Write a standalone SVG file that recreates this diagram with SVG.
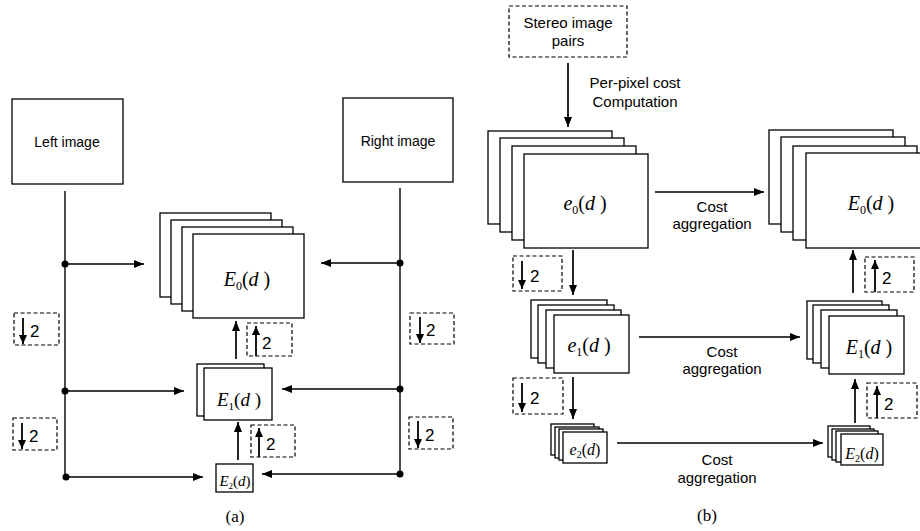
<svg xmlns="http://www.w3.org/2000/svg" width="920" height="531" viewBox="0 0 920 531">
<defs>
<marker id="ah" markerUnits="userSpaceOnUse" markerWidth="10" markerHeight="8" refX="10" refY="4" orient="auto"><path d="M0,0 L10,4 L0,8 z" fill="#000"/></marker>
<marker id="as" markerUnits="userSpaceOnUse" markerWidth="9" markerHeight="8" refX="9" refY="4" orient="auto"><path d="M0,0 L9,4 L0,8 z" fill="#000"/></marker>
<style>
.box{fill:#fff;stroke:#000;stroke-width:1.3}
.dash{fill:none;stroke:#000;stroke-width:1.2;stroke-dasharray:4,2.5}
.ln{stroke:#000;stroke-width:1.4;fill:none}
.ar{stroke:#000;stroke-width:1.7;fill:none;marker-end:url(#ah)}
.sa{stroke:#000;stroke-width:1.8;fill:none;marker-end:url(#as)}
.t{font-family:"Liberation Sans",Arial,sans-serif;font-size:14px;fill:#000}
.two{font-family:"Liberation Sans",Arial,sans-serif;font-size:17px;fill:#000}
.tb{font-family:"Liberation Sans",Arial,sans-serif;font-size:15px;fill:#000;text-anchor:middle}
.m{font-family:"Liberation Serif","Times New Roman",serif;fill:#000;text-anchor:middle}
.i{font-style:italic}
</style>
</defs>
<rect width="920" height="531" fill="#fff"/>

<!-- (a) -->
<g id="left-image"><rect class="box" x="12" y="99" width="111" height="85"/><text class="t" x="67" y="147" text-anchor="middle">Left image</text></g>
<g id="right-image"><rect class="box" x="343" y="98" width="110" height="84"/><text class="t" x="398" y="146" text-anchor="middle">Right image</text></g>

<g id="a-E0">
<rect class="box" x="160" y="213" width="111" height="84"/>
<rect class="box" x="171" y="220" width="111" height="84"/>
<rect class="box" x="182" y="227" width="111" height="84"/>
<rect class="box" x="193" y="234" width="111" height="84"/>
<text class="m" x="247" y="286" font-size="20"><tspan class="i">E</tspan><tspan font-size="12" dy="4">0</tspan><tspan dy="-4">(</tspan><tspan class="i">d</tspan> )</text>
</g>
<g id="a-E1">
<rect class="box" x="197" y="364" width="67" height="52"/>
<rect class="box" x="204" y="368" width="68" height="52"/>
<text class="m" x="239" y="406" font-size="19"><tspan class="i">E</tspan><tspan font-size="11" dy="4">1</tspan><tspan dy="-4">(</tspan><tspan class="i">d</tspan> )</text>
</g>
<g id="a-E2">
<rect class="box" x="216" y="464" width="37" height="28"/>
<text class="m" x="235" y="486" font-size="15"><tspan class="i">E</tspan><tspan font-size="9" dy="3">2</tspan><tspan dy="-3">(</tspan><tspan class="i">d</tspan>)</text>
</g>

<g id="a-down1"><rect class="dash" x="14" y="313" width="45" height="32"/><line class="sa" x1="23" y1="318" x2="23" y2="344"/><text class="two" x="30" y="337">2</text></g>
<g id="a-down2"><rect class="dash" x="13" y="418" width="44" height="32"/><line class="sa" x1="22" y1="423" x2="22" y2="449"/><text class="two" x="29" y="442">2</text></g>
<g id="a-down3"><rect class="dash" x="410" y="313" width="44" height="31"/><line class="sa" x1="420" y1="317" x2="420" y2="343"/><text class="two" x="426" y="336">2</text></g>
<g id="a-down4"><rect class="dash" x="409" y="417" width="44" height="32"/><line class="sa" x1="418" y1="421" x2="418" y2="448"/><text class="two" x="425" y="441">2</text></g>
<g id="a-up1"><rect class="dash" x="247" y="323" width="45" height="33"/><line class="sa" x1="256" y1="356" x2="256" y2="326"/><text class="two" x="262" y="349">2</text></g>
<g id="a-up2"><rect class="dash" x="251" y="425" width="44" height="32"/><line class="sa" x1="259" y1="457" x2="259" y2="428"/><text class="two" x="266" y="450">2</text></g>

<g id="a-connectors">
<line class="ln" x1="65" y1="191" x2="65" y2="477"/>
<line class="ln" x1="400" y1="188" x2="400" y2="474"/>
<circle cx="65" cy="264" r="3.5"/><circle cx="400" cy="263" r="3.5"/>
<circle cx="65" cy="391" r="3.5"/><circle cx="400" cy="389" r="3.5"/>
<circle cx="66" cy="477" r="3.5"/><circle cx="400" cy="474" r="3.5"/>
<line class="ar" x1="65" y1="264" x2="144" y2="264"/>
<line class="ar" x1="400" y1="263" x2="321" y2="263"/>
<line class="ar" x1="65" y1="391" x2="184" y2="391"/>
<line class="ar" x1="400" y1="389" x2="282" y2="389"/>
<line class="ar" x1="66" y1="477" x2="203" y2="477"/>
<line class="ar" x1="400" y1="474" x2="262" y2="474"/>
<line class="ar" x1="236" y1="359" x2="236" y2="321"/>
<line class="ar" x1="238" y1="460" x2="238" y2="422"/>
</g>
<text class="m" x="235" y="522" font-size="17">(a)</text>

<!-- (b) -->
<g id="stereo"><rect class="dash" x="509" y="6" width="118" height="51"/><text class="tb" x="568" y="28">Stereo image</text><text class="tb" x="568" y="46">pairs</text></g>

<g id="b-e0">
<rect class="box" x="488" y="131" width="124" height="93"/>
<rect class="box" x="500" y="138" width="124" height="94"/>
<rect class="box" x="512" y="146" width="124" height="94"/>
<rect class="box" x="524" y="154" width="124" height="94"/>
<text class="m" x="585" y="210" font-size="20"><tspan class="i">e</tspan><tspan font-size="12" dy="4">0</tspan><tspan dy="-4">(</tspan><tspan class="i">d</tspan> )</text>
</g>
<g id="b-E0">
<rect class="box" x="769" y="130" width="124" height="94"/>
<rect class="box" x="781" y="137" width="124" height="95"/>
<rect class="box" x="793" y="146" width="124" height="94"/>
<rect class="box" x="806" y="153" width="124" height="95"/>
<text class="m" x="871" y="210" font-size="20"><tspan class="i">E</tspan><tspan font-size="12" dy="4">0</tspan><tspan dy="-4">(</tspan><tspan class="i">d</tspan> )</text>
</g>
<g id="b-e1">
<rect class="box" x="531" y="300" width="76" height="58"/>
<rect class="box" x="538" y="305" width="76" height="58"/>
<rect class="box" x="546" y="310" width="75" height="58"/>
<rect class="box" x="554" y="315" width="75" height="58"/>
<text class="m" x="589" y="352" font-size="20"><tspan class="i">e</tspan><tspan font-size="12" dy="4">1</tspan><tspan dy="-4">(</tspan><tspan class="i">d</tspan> )</text>
</g>
<g id="b-E1">
<rect class="box" x="807" y="301" width="75" height="58"/>
<rect class="box" x="813" y="305" width="76" height="58"/>
<rect class="box" x="821" y="310" width="76" height="58"/>
<rect class="box" x="829" y="316" width="75" height="58"/>
<text class="m" x="869" y="354" font-size="20"><tspan class="i">E</tspan><tspan font-size="12" dy="4">1</tspan><tspan dy="-4">(</tspan><tspan class="i">d</tspan> )</text>
</g>
<g id="b-e2">
<rect class="box" x="551" y="424" width="43" height="31"/>
<rect class="box" x="555" y="427" width="44" height="31"/>
<rect class="box" x="559" y="429" width="44" height="31"/>
<rect class="box" x="563" y="432" width="44" height="31"/>
<text class="m" x="585" y="455" font-size="16"><tspan class="i">e</tspan><tspan font-size="10" dy="3">2</tspan><tspan dy="-3">(</tspan><tspan class="i">d</tspan>)</text>
</g>
<g id="b-E2">
<rect class="box" x="828" y="426" width="42" height="31"/>
<rect class="box" x="832" y="429" width="42" height="31"/>
<rect class="box" x="836" y="431" width="42" height="31"/>
<rect class="box" x="841" y="434" width="42" height="31"/>
<text class="m" x="862" y="459" font-size="16"><tspan class="i">E</tspan><tspan font-size="10" dy="3">2</tspan><tspan dy="-3">(</tspan><tspan class="i">d</tspan>)</text>
</g>

<g id="b-down1"><rect class="dash" x="513" y="256" width="49" height="35"/><line class="sa" x1="522" y1="261" x2="522" y2="289"/><text class="two" x="530" y="282">2</text></g>
<g id="b-down2"><rect class="dash" x="513" y="378" width="50" height="36"/><line class="sa" x1="522" y1="383" x2="522" y2="412"/><text class="two" x="530" y="404">2</text></g>
<g id="b-up1"><rect class="dash" x="865" y="257" width="49" height="35"/><line class="sa" x1="875" y1="292" x2="875" y2="260"/><text class="two" x="882" y="284">2</text></g>
<g id="b-up2"><rect class="dash" x="867" y="383" width="50" height="35"/><line class="sa" x1="877" y1="418" x2="877" y2="386"/><text class="two" x="884" y="410">2</text></g>

<g id="b-connectors">
<line class="ar" x1="568" y1="63" x2="568" y2="127"/>
<line class="ar" x1="573" y1="250" x2="573" y2="295"/>
<line class="ar" x1="573" y1="377" x2="573" y2="419"/>
<line class="ar" x1="655" y1="192" x2="764" y2="192"/>
<line class="ar" x1="639" y1="337" x2="800" y2="337"/>
<line class="ar" x1="617" y1="443" x2="823" y2="443"/>
<line class="ar" x1="853" y1="293" x2="853" y2="250"/>
<line class="ar" x1="855" y1="423" x2="855" y2="379"/>
</g>
<text class="tb" x="635" y="88">Per-pixel cost</text>
<text class="tb" x="635" y="107">Computation</text>
<text class="tb" x="712" y="212">Cost</text>
<text class="tb" x="712" y="229">aggregation</text>
<text class="tb" x="722" y="357">Cost</text>
<text class="tb" x="722" y="374">aggregation</text>
<text class="tb" x="717" y="465">Cost</text>
<text class="tb" x="717" y="483">aggregation</text>
<text class="m" x="707" y="521" font-size="17">(b)</text>
</svg>
